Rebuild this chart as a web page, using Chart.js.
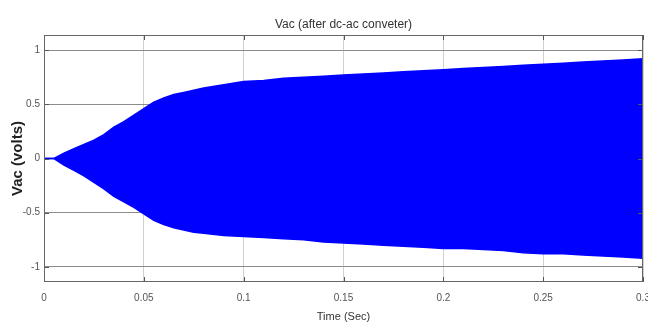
<!DOCTYPE html>
<html>
<head>
<meta charset="utf-8">
<script src="https://cdn.jsdelivr.net/npm/chart.js@4.4.1/dist/chart.umd.min.js"></script>
<style>
    body { margin: 0; background: #fff; }
    #wrap { width: 648px; height: 324px; }
</style>
</head>
<body>
<div id="wrap"><canvas id="grafikVac" width="648" height="324"></canvas></div>
<script>
// envelope of the inverter output voltage, sampled along time
const waktu = [0, 0.005, 0.01, 0.015, 0.02, 0.025, 0.03, 0.035, 0.04, 0.045, 0.05, 0.055, 0.06, 0.065, 0.07, 0.075, 0.08, 0.09,
    0.1, 0.11, 0.12, 0.13, 0.14, 0.15, 0.16, 0.17, 0.18, 0.19, 0.2, 0.21, 0.22, 0.23, 0.24, 0.25, 0.26, 0.27, 0.28, 0.29, 0.3];
const vacAtas = [0, 0, 0.05, 0.09, 0.13, 0.17, 0.22, 0.29, 0.34, 0.40, 0.46, 0.52, 0.56, 0.59, 0.61, 0.63, 0.65, 0.68,
    0.71, 0.72, 0.74, 0.75, 0.76, 0.77, 0.78, 0.79, 0.80, 0.81, 0.82, 0.83, 0.84, 0.85, 0.86, 0.87, 0.88, 0.89, 0.90, 0.91, 0.92];
const vacBawah = [0, 0, -0.06, -0.11, -0.16, -0.22, -0.28, -0.35, -0.40, -0.45, -0.51, -0.57, -0.61, -0.64, -0.66, -0.68, -0.69, -0.71,
    -0.72, -0.73, -0.74, -0.75, -0.77, -0.78, -0.79, -0.80, -0.81, -0.82, -0.83, -0.83, -0.84, -0.85, -0.87, -0.88, -0.88, -0.89, -0.90, -0.91, -0.92];

const xTicks = [0, 0.05, 0.1, 0.15, 0.2, 0.25, 0.3];
const yTicks = [-1, -0.5, 0, 0.5, 1];

const fontArial = "'Liberation Sans', Arial, sans-serif";

// kotak sumbu + tick ke dalam (gaya matlab)
const kotakSumbu = {
    id: 'kotakSumbu',
    afterDatasetsDraw(chart) {
        const { ctx, chartArea: a, scales: { x, y } } = chart;
        ctx.save();
        ctx.strokeStyle = '#555';
        ctx.lineWidth = 1;
        ctx.beginPath();
        xTicks.forEach(v => {
            const px = Math.round(x.getPixelForValue(v)) + 0.5;
            ctx.moveTo(px, a.bottom); ctx.lineTo(px, a.bottom - 5);
            ctx.moveTo(px, a.top); ctx.lineTo(px, a.top + 5);
        });
        yTicks.forEach(v => {
            const py = Math.round(y.getPixelForValue(v)) + 0.5;
            ctx.moveTo(a.left, py); ctx.lineTo(a.left + 5, py);
            ctx.moveTo(a.right, py); ctx.lineTo(a.right - 5, py);
        });
        ctx.stroke();
        ctx.strokeStyle = '#666';
        ctx.strokeRect(Math.round(a.left) + 0.5, Math.round(a.top) + 0.5,
            Math.round(a.right - a.left) - 1, Math.round(a.bottom - a.top) - 1);
        ctx.restore();
    }
};

const ctx = document.getElementById('grafikVac').getContext('2d');
new Chart(ctx, {
    type: 'line',
    data: {
        labels: waktu,
        datasets: [
            {
                label: 'atas',
                data: waktu.map((t, i) => ({ x: t, y: vacAtas[i] })),
                borderColor: '#0000ff',
                backgroundColor: '#0000ff',
                borderWidth: 1.5,
                pointRadius: 0,
                fill: '+1'
            },
            {
                label: 'bawah',
                data: waktu.map((t, i) => ({ x: t, y: vacBawah[i] })),
                borderColor: '#0000ff',
                backgroundColor: '#0000ff',
                borderWidth: 1.5,
                pointRadius: 0,
                fill: false
            }
        ]
    },
    options: {
        responsive: false,
        animation: false,
        layout: { padding: { right: 5 } },
        scales: {
            x: {
                type: 'linear',
                min: 0,
                max: 0.3,
                afterBuildTicks: s => { s.ticks = xTicks.map(v => ({ value: v })); },
                afterFit: s => { s.height = 42; s.paddingLeft = 0; s.paddingRight = 0; },
                ticks: {
                    autoSkip: false,
                    maxRotation: 0,
                    padding: 10,
                    color: '#555',
                    font: { family: fontArial, size: 10 },
                    callback: v => String(v)
                },
                grid: { color: '#d0d0d0', drawTicks: false },
                border: { display: false },
                title: {
                    display: true,
                    text: 'Time (Sec)',
                    color: '#333',
                    font: { family: fontArial, size: 11 },
                    padding: { top: 0, bottom: 0 }
                }
            },
            y: {
                min: -1.14,
                max: 1.14,
                afterBuildTicks: s => { s.ticks = yTicks.map(v => ({ value: v })); },
                afterFit: s => { s.width = 44; s.paddingTop = 0; s.paddingBottom = 0; },
                ticks: {
                    padding: 4,
                    color: '#555',
                    font: { family: fontArial, size: 10 },
                    callback: v => String(v)
                },
                grid: { color: '#8c8c8c', drawTicks: false },
                border: { display: false },
                title: {
                    display: true,
                    text: 'Vac (volts)',
                    color: '#222',
                    font: { family: fontArial, size: 15, weight: 'bold' },
                    padding: { top: 9, bottom: 0 }
                }
            }
        },
        plugins: {
            legend: { display: false },
            tooltip: { enabled: false },
            title: {
                display: true,
                fullSize: false,
                text: 'Vac (after dc-ac conveter)',
                color: '#333',
                font: { family: fontArial, size: 12, weight: 'normal' },
                padding: { top: 17, bottom: 3.6 }
            }
        }
    },
    plugins: [kotakSumbu]
});
</script>
</body>
</html>
